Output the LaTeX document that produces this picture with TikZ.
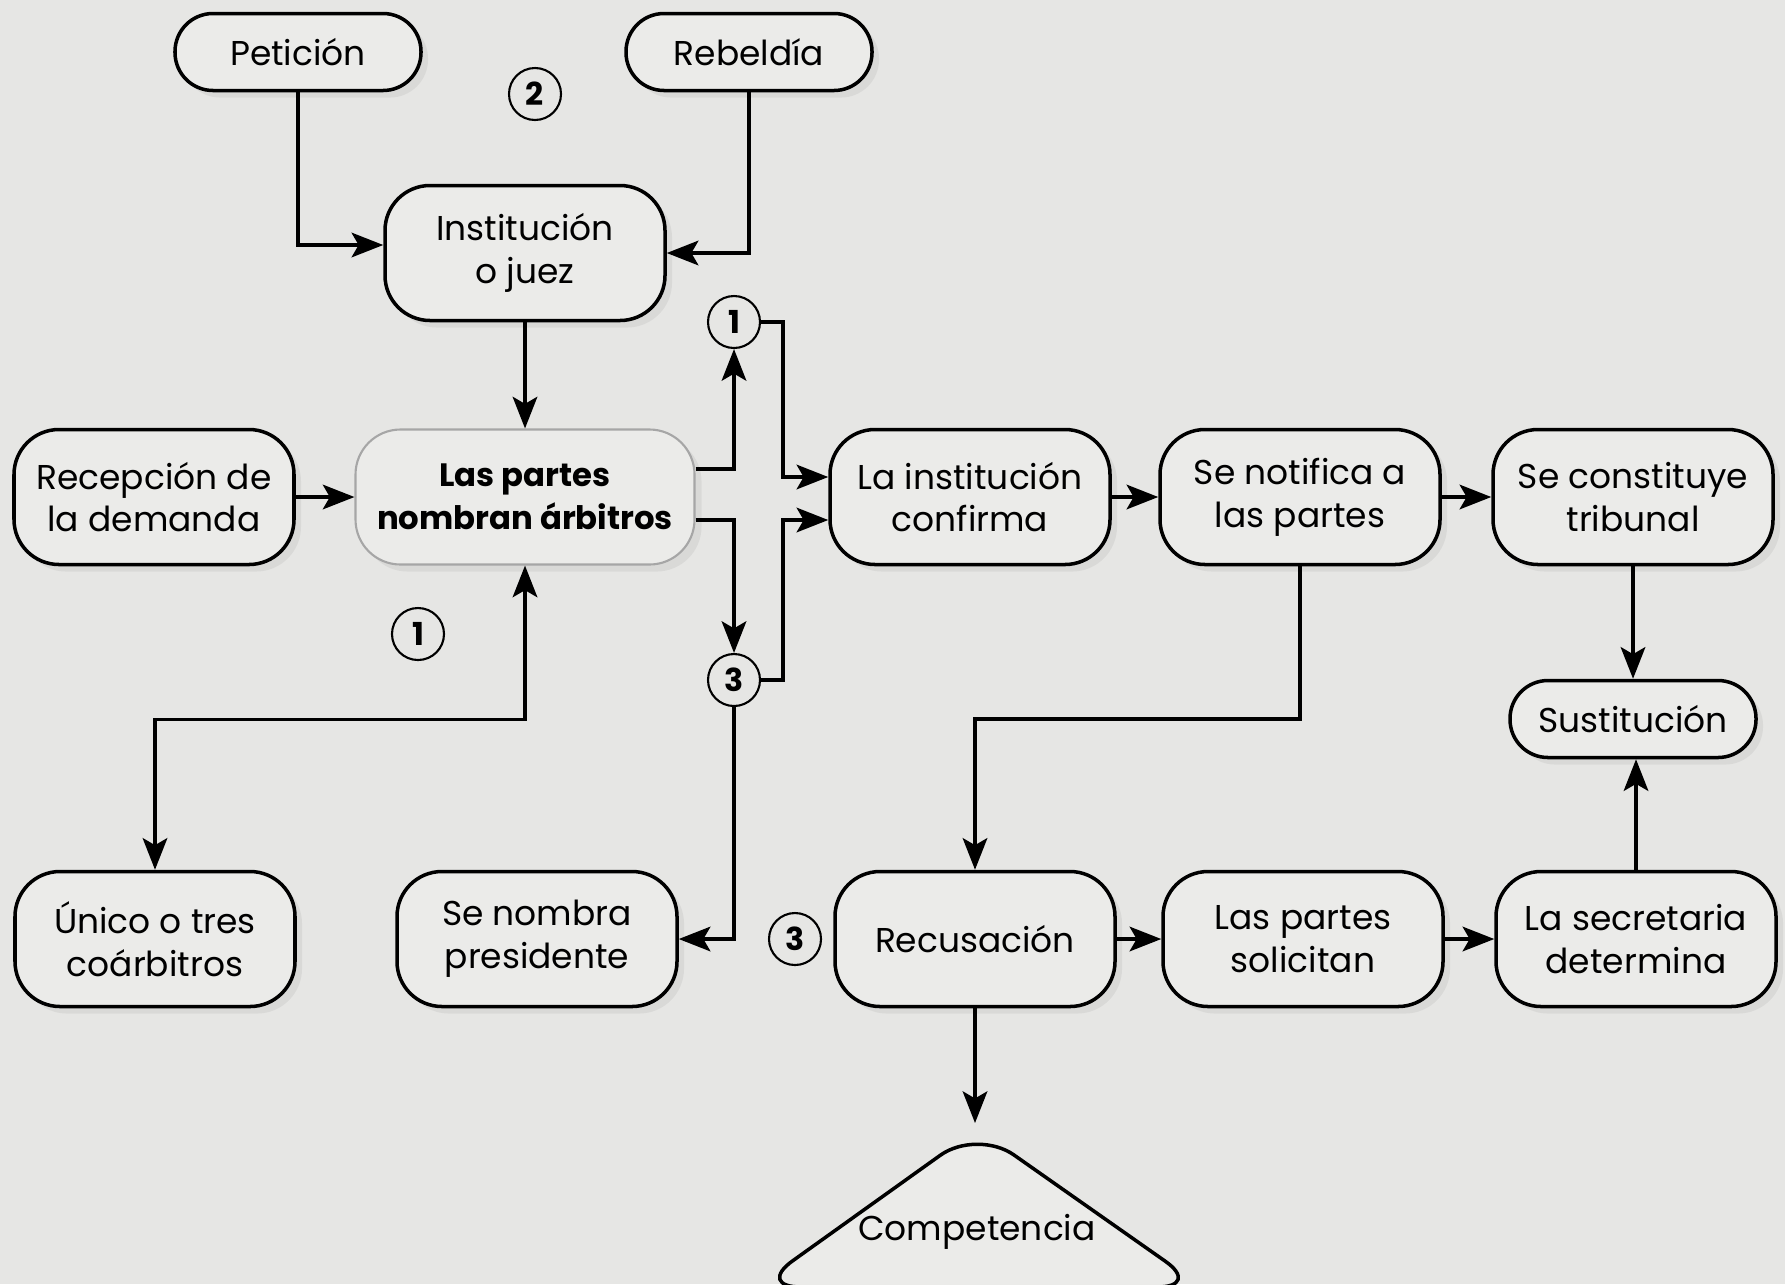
\documentclass[tikz,border=0pt]{standalone}
\usepackage{fontspec}
\setmainfont{Poppins}
\usetikzlibrary{arrows.meta,shadows}
\definecolor{bgcol}{HTML}{E6E6E4}
\definecolor{boxcol}{HTML}{EBEBE9}

\begin{document}
\begin{tikzpicture}[
    font=\fontsize{9.8}{12.2}\selectfont,
    box/.style={draw, line width=1pt, fill=boxcol, rounded corners=0.45cm,
      minimum width=2.8cm, minimum height=1.35cm, align=center,
      drop shadow={opacity=0.12, shadow xshift=2pt, shadow yshift=-2pt}},
    pill/.style={box, minimum width=2.46cm, minimum height=0.77cm, rounded corners=0.38cm},
    num/.style={draw, circle, line width=0.6pt, minimum size=0.52cm, inner sep=0pt,
      font=\fontsize{9}{10}\selectfont\bfseries},
    arr/.style={line width=1pt, -{Stealth[length=9pt, width=7pt, inset=2pt]}},
    arrboth/.style={line width=1pt, {Stealth[length=9pt, width=7pt, inset=2pt]}-{Stealth[length=9pt, width=7pt, inset=2pt]}}
  ]
  \useasboundingbox (0,0) rectangle (17.85,-12.84);
  \fill[bgcol] (0,0) rectangle (17.85,-12.84);

  \node[pill] (pet) at (2.98,-0.52) {Petición};
  \node[pill] (reb) at (7.49,-0.52) {Rebeldía};
  \node[num] (c2) at (5.35,-0.94) {2};
  \node[box] (inst) at (5.25,-2.53) {Institución\\o juez};
  \node[num] (c1a) at (7.34,-3.22) {1};

  \node[box] (rec) at (1.54,-4.97) {Recepción de\\la demanda};
  \node[box, draw=gray!70, line width=0.6pt, minimum width=3.39cm,
    font=\fontsize{9.2}{12.2}\selectfont\bfseries] (partes) at (5.25,-4.97) {Las partes\\nombran árbitros};
  \node[box] (conf) at (9.70,-4.97) {La institución\\confirma};
  \node[box] (notif) at (13.00,-4.97) {Se notifica a\\las partes};
  \node[box] (trib) at (16.33,-4.97) {Se constituye\\tribunal};

  \node[num] (c1b) at (4.18,-6.34) {1};
  \node[num] (c3a) at (7.34,-6.80) {3};
  \node[pill] (sust) at (16.33,-7.19) {Sustitución};

  \node[box] (unico) at (1.55,-9.39) {Único o tres\\coárbitros};
  \node[box] (pres) at (5.37,-9.39) {Se nombra\\presidente};
  \node[num] (c3b) at (7.95,-9.39) {3};
  \node[box] (recus) at (9.75,-9.39) {Recusación};
  \node[box] (solic) at (13.03,-9.39) {Las partes\\solicitan};
  \node[box] (secr) at (16.36,-9.39) {La secretaria\\determina};

  % triangle at the bottom
  \coordinate (comptop) at (9.77,-11.29);
  \draw[line width=1pt, fill=boxcol, rounded corners=0.45cm]
    (7.56,-12.87) -- (comptop) -- (12.02,-12.87) -- cycle;
  \node (comp) at (9.77,-12.32) {Competencia};

  \draw[arr] (pet.south) |- ([yshift=0.08cm]inst.west);
  \draw[arr] (reb.south) |- (inst.east);
  \draw[arr] (inst) -- (partes);
  \draw[arr] (rec) -- (partes);
  \draw[arr] ([yshift=0.28cm]partes.east) -| (c1a.south);
  \draw[arr] ([yshift=-0.23cm]partes.east) -| (c3a.north);
  \draw[arr] (c1a.east) -- ++(0.22,0) |- ([yshift=0.2cm]conf.west);
  \draw[arr] (c3a.east) -- ++(0.22,0) |- ([yshift=-0.23cm]conf.west);
  \draw[arr] (c3a.south) |- (pres.east);
  \draw[arrboth] (unico.north) |- ([yshift=-1.54cm]partes.south) -- (partes.south);
  \draw[arr] (conf) -- (notif);
  \draw[arr] (notif) -- (trib);
  \draw[arr] (trib) -- (sust);
  \draw[arr] (secr.north) -- (secr.north |- sust.south);
  \draw[arr] (notif.south) |- ([yshift=1.51cm]recus.north) -- (recus.north);
  \draw[arr] (recus) -- (solic);
  \draw[arr] (solic) -- (secr);
  \draw[arr] (recus.south) -- ([yshift=0.06cm]recus.south |- comptop);
\end{tikzpicture}
\end{document}
